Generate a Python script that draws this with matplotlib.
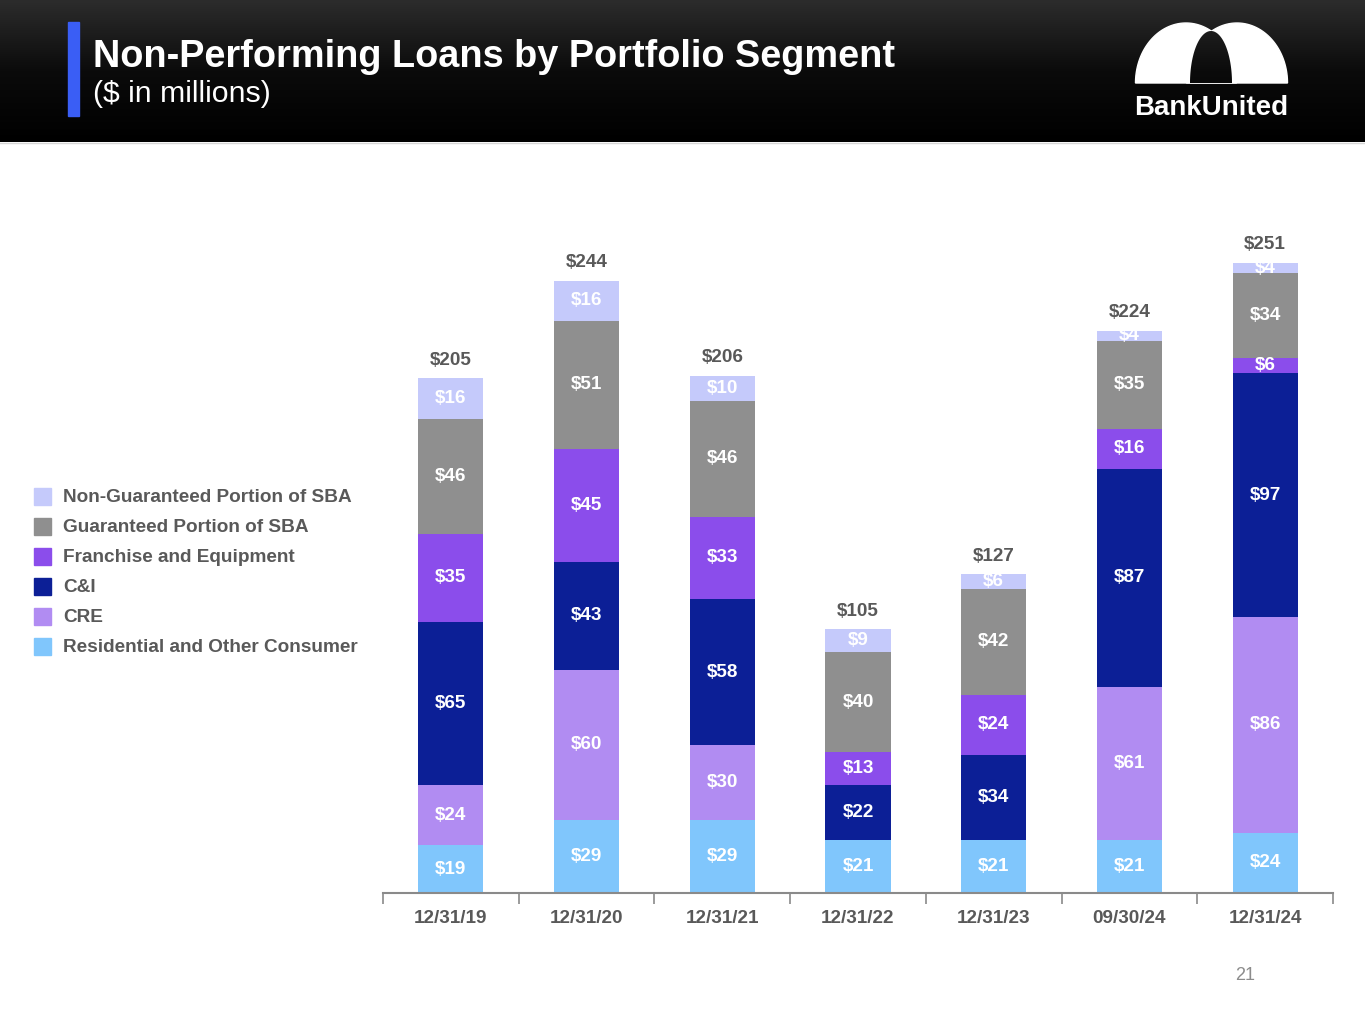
"""
Non-Performing Loans by Portfolio Segment ($ in millions)
Stacked bar chart with a slide-style header, logo and side legend.
"""

import numpy as np
import matplotlib.pyplot as plt
from matplotlib.patches import Rectangle, Polygon
from matplotlib.colors import LinearSegmentedColormap

plt.rcParams["font.family"] = ["Liberation Sans", "DejaVu Sans"]

# ---- data ($ in millions) ----
periods = ["12/31/19", "12/31/20", "12/31/21", "12/31/22", "12/31/23", "09/30/24", "12/31/24"]
residential = [19, 29, 29, 21, 21, 21, 24]
cre = [24, 60, 30, 0, 0, 61, 86]
c_and_i = [65, 43, 58, 22, 34, 87, 97]
franchise = [35, 45, 33, 13, 24, 16, 6]
sba_guaranteed = [46, 51, 46, 40, 42, 35, 34]
sba_non_guaranteed = [16, 16, 10, 9, 6, 4, 4]
totals = [205, 244, 206, 105, 127, 224, 251]

segment_names = [
    "Residential and Other Consumer",
    "CRE",
    "C&I",
    "Franchise and Equipment",
    "Guaranteed Portion of SBA",
    "Non-Guaranteed Portion of SBA",
]
segment_values = [residential, cre, c_and_i, franchise, sba_guaranteed, sba_non_guaranteed]
segment_colors = ["#80C6FC", "#B18CF2", "#0C1F96", "#8B4DEB", "#8F8F8F", "#C5CAFB"]

TEXT_GREY = "#595959"
AXIS_GREY = "#8a8a8a"
LABEL_SIZE = 13.6

W, H = 1365, 1024
fig = plt.figure(figsize=(W / 100, H / 100), dpi=100)

# ---- background layer in pixel coordinates ----
bg = fig.add_axes([0, 0, 1, 1])
bg.set_xlim(0, W)
bg.set_ylim(H, 0)
bg.axis("off")

header_cmap = LinearSegmentedColormap.from_list("hdr", ["#2c2c2c", "#0b0b0b", "#000000"])
gradient = np.linspace(0, 1, 200).reshape(-1, 1)
bg.imshow(gradient, extent=[0, W, 142, 0], cmap=header_cmap, aspect="auto", zorder=0)
bg.plot([0, W], [142.5, 142.5], color="#d6d6d6", lw=1, zorder=1)

bg.add_patch(Rectangle((68, 22), 11, 94, color="#3a5ef5", zorder=2))
bg.text(93, 57, "Non-Performing Loans by Portfolio Segment", color="white",
        fontsize=27.3, fontweight="bold", ha="left", va="center", zorder=3)
bg.text(93, 94, "($ in millions)", color="white", fontsize=21.8,
        ha="left", va="center", zorder=3)


# logo: two white half-ellipse arches with a dark gap between them
def half_ellipse(cx, base, a, b, n=80):
    t = np.linspace(0, np.pi, n)
    return np.column_stack([cx + a * np.cos(t), base - b * np.sin(t)])


bg.add_patch(Polygon(half_ellipse(1186, 83, 50.5, 60), color="white", zorder=3))
bg.add_patch(Polygon(half_ellipse(1237, 83, 50.5, 60), color="white", zorder=3))
gap = Polygon(half_ellipse(1211, 83, 21, 52), facecolor="none", edgecolor="none", zorder=4)
bg.add_patch(gap)
gap_fill = bg.imshow(gradient, extent=[0, W, 142, 0], cmap=header_cmap, aspect="auto", zorder=4)
gap_fill.set_clip_path(gap)
bg.text(1211, 108, "BankUnited", color="white", fontsize=20, fontweight="bold",
        ha="center", va="center", zorder=3)

# legend (top entry is the top of the stack)
for k, (name, color) in enumerate(zip(segment_names[::-1], segment_colors[::-1])):
    yc = 496 + 30 * k
    bg.add_patch(Rectangle((34, yc - 8.5), 17, 17, color=color, zorder=2))
    bg.text(63, yc + 1, name, color=TEXT_GREY, fontsize=13.7, fontweight="bold",
            ha="left", va="center", zorder=2)

bg.text(1245, 976, "21", color="#8c8c8c", fontsize=13, ha="center", va="center")

# ---- chart ----
ax = fig.add_axes([383 / W, 1 - 893 / H, 950 / W, (893 - 150) / H])
ax.patch.set_alpha(0)
x = np.arange(len(periods))
bottom = np.zeros(len(periods))
for values, color in zip(segment_values, segment_colors):
    vals = np.array(values, dtype=float)
    ax.bar(x, vals, width=0.48, bottom=bottom, color=color, zorder=2)
    for i, v in enumerate(vals):
        if v > 0:
            ax.text(x[i], bottom[i] + v / 2, f"${int(v)}", color="white",
                    fontsize=LABEL_SIZE, fontweight="bold", ha="center", va="center", zorder=3)
    bottom += vals

for i, t in enumerate(totals):
    ax.annotate(f"${t}", (x[i], bottom[i]), xytext=(0, 7), textcoords="offset points",
                ha="center", va="bottom", color=TEXT_GREY, fontsize=LABEL_SIZE, fontweight="bold")

ax.set_xlim(-0.5, len(periods) - 0.5)
ax.set_ylim(0, 743 / 2.51)
for side in ["top", "right", "left"]:
    ax.spines[side].set_visible(False)
ax.spines["bottom"].set_color(AXIS_GREY)
ax.spines["bottom"].set_linewidth(1.5)
ax.set_yticks([])
ax.set_xticks(x)
ax.set_xticklabels(periods, fontsize=LABEL_SIZE, fontweight="bold", color=TEXT_GREY)
ax.set_xticks(np.arange(-0.5, len(periods)), minor=True)
ax.tick_params(axis="x", which="major", length=0, pad=12)
ax.tick_params(axis="x", which="minor", length=8, width=1.2, color=AXIS_GREY, direction="out")

fig.savefig("out.png", dpi=100)
